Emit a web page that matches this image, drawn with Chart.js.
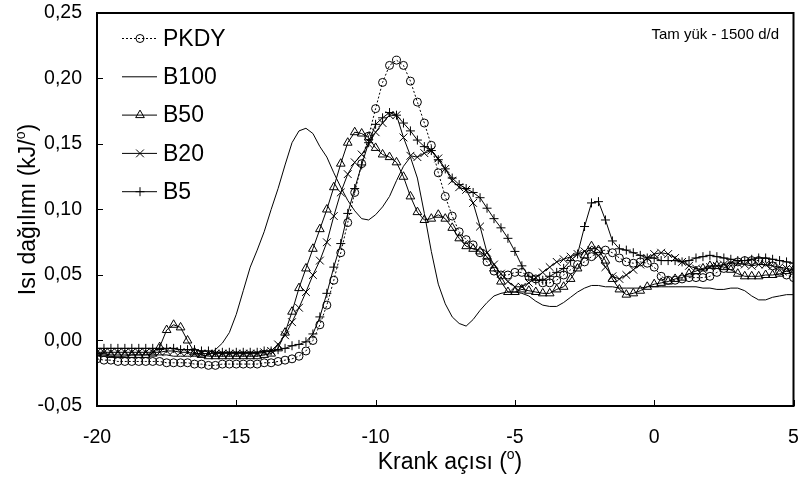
<!DOCTYPE html>
<html>
<head>
<meta charset="utf-8">
<script src="https://cdn.jsdelivr.net/npm/chart.js@4.4.1/dist/chart.umd.min.js"></script>
<style>
  html, body { margin: 0; padding: 0; background: #fff; }
  canvas { display: block; }
</style>
</head>
<body>
<canvas id="heatChart" width="800" height="479"></canvas>
<script>
// crank angle, degrees (0.25 step)
const angles = [
  -20, -19.75, -19.5, -19.25, -19, -18.75, -18.5, -18.25,
  -18, -17.75, -17.5, -17.25, -17, -16.75, -16.5, -16.25,
  -16, -15.75, -15.5, -15.25, -15, -14.75, -14.5, -14.25,
  -14, -13.75, -13.5, -13.25, -13, -12.75, -12.5, -12.25,
  -12, -11.75, -11.5, -11.25, -11, -10.75, -10.5, -10.25,
  -10, -9.75, -9.5, -9.25, -9, -8.75, -8.5, -8.25,
  -8, -7.75, -7.5, -7.25, -7, -6.75, -6.5, -6.25,
  -6, -5.75, -5.5, -5.25, -5, -4.75, -4.5, -4.25,
  -4, -3.75, -3.5, -3.25, -3, -2.75, -2.5, -2.25,
  -2, -1.75, -1.5, -1.25, -1, -0.75, -0.5, -0.25,
  0, 0.25, 0.5, 0.75, 1, 1.25, 1.5, 1.75,
  2, 2.25, 2.5, 2.75, 3, 3.25, 3.5, 3.75,
  4, 4.25, 4.5, 4.75, 5
];

// heat release, kJ/deg
const pkdy = [
  -0.014, -0.015, -0.015, -0.016, -0.016, -0.016, -0.016, -0.016,
  -0.016, -0.016, -0.017, -0.017, -0.017, -0.017, -0.018, -0.018,
  -0.019, -0.019, -0.018, -0.018, -0.018, -0.018, -0.018, -0.018,
  -0.017, -0.017, -0.016, -0.015, -0.014, -0.012, -0.008, 0.000,
  0.012, 0.027, 0.046, 0.067, 0.090, 0.113, 0.135, 0.156,
  0.177, 0.197, 0.210, 0.214, 0.210, 0.198, 0.182, 0.166,
  0.149, 0.128, 0.110, 0.095, 0.083, 0.077, 0.073, 0.067,
  0.060, 0.053, 0.050, 0.050, 0.052, 0.052, 0.049, 0.047,
  0.044, 0.044, 0.046, 0.050, 0.054, 0.058, 0.060, 0.064,
  0.068, 0.069, 0.067, 0.063, 0.060, 0.059, 0.060, 0.059,
  0.056, 0.049, 0.046, 0.046, 0.047, 0.048, 0.048, 0.048,
  0.049, 0.052, 0.055, 0.057, 0.060, 0.061, 0.061, 0.061,
  0.060, 0.057, 0.053, 0.050, 0.048
];
const b100 = [
  -0.011, -0.011, -0.012, -0.012, -0.012, -0.011, -0.011, -0.011,
  -0.011, -0.011, -0.011, -0.012, -0.012, -0.012, -0.012, -0.012,
  -0.011, -0.007, -0.002, 0.006, 0.020, 0.038, 0.056, 0.069,
  0.083, 0.100, 0.116, 0.134, 0.151, 0.160, 0.162, 0.158,
  0.148, 0.140, 0.128, 0.117, 0.107, 0.099, 0.093, 0.092,
  0.096, 0.102, 0.110, 0.122, 0.133, 0.140, 0.124, 0.097,
  0.068, 0.043, 0.028, 0.018, 0.013, 0.011, 0.016, 0.023,
  0.029, 0.034, 0.036, 0.037, 0.037, 0.036, 0.034, 0.030,
  0.027, 0.026, 0.026, 0.029, 0.033, 0.037, 0.040, 0.042,
  0.042, 0.041, 0.041, 0.040, 0.040, 0.040, 0.040, 0.041,
  0.041, 0.041, 0.041, 0.041, 0.041, 0.041, 0.041, 0.040,
  0.040, 0.039, 0.039, 0.040, 0.040, 0.038, 0.034, 0.031,
  0.031, 0.033, 0.034, 0.035, 0.035
];
const b50 = [
  -0.010, -0.010, -0.011, -0.011, -0.011, -0.011, -0.011, -0.011,
  -0.010, -0.005, 0.008, 0.012, 0.010, 0.000, -0.009, -0.011,
  -0.012, -0.012, -0.012, -0.012, -0.012, -0.012, -0.012, -0.012,
  -0.011, -0.010, -0.006, 0.006, 0.022, 0.040, 0.055, 0.070,
  0.085, 0.100, 0.117, 0.135, 0.151, 0.159, 0.158, 0.155,
  0.147, 0.142, 0.140, 0.136, 0.125, 0.110, 0.098, 0.092,
  0.093, 0.096, 0.093, 0.086, 0.078, 0.072, 0.070, 0.068,
  0.064, 0.055, 0.045, 0.037, 0.037, 0.039, 0.038, 0.037,
  0.036, 0.036, 0.039, 0.041, 0.047, 0.055, 0.065, 0.072,
  0.069, 0.061, 0.047, 0.039, 0.035, 0.036, 0.038, 0.041,
  0.043, 0.044, 0.045, 0.047, 0.048, 0.051, 0.053, 0.055,
  0.057, 0.057, 0.056, 0.054, 0.051, 0.049, 0.049, 0.049,
  0.050, 0.050, 0.051, 0.053, 0.054
];
const b20 = [
  -0.009, -0.009, -0.009, -0.009, -0.009, -0.009, -0.009, -0.009,
  -0.009, -0.009, -0.008, -0.008, -0.009, -0.009, -0.010, -0.010,
  -0.010, -0.010, -0.010, -0.010, -0.010, -0.010, -0.010, -0.010,
  -0.009, -0.008, -0.003, 0.004, 0.014, 0.025, 0.037, 0.050,
  0.061, 0.075, 0.095, 0.113, 0.127, 0.136, 0.142, 0.150,
  0.159, 0.166, 0.172, 0.172, 0.155, 0.141, 0.140, 0.143,
  0.145, 0.139, 0.131, 0.122, 0.117, 0.115, 0.105, 0.087,
  0.067, 0.058, 0.051, 0.045, 0.041, 0.041, 0.044, 0.048,
  0.052, 0.056, 0.060, 0.062, 0.064, 0.066, 0.068, 0.069,
  0.065, 0.056, 0.049, 0.047, 0.050, 0.054, 0.058, 0.063,
  0.066, 0.067, 0.066, 0.063, 0.060, 0.057, 0.055, 0.054,
  0.056, 0.057, 0.058, 0.059, 0.059, 0.058, 0.057, 0.058,
  0.058, 0.057, 0.056, 0.055, 0.054
];
const b5 = [
  -0.006, -0.006, -0.006, -0.006, -0.006, -0.006, -0.006, -0.006,
  -0.006, -0.006, -0.006, -0.006, -0.007, -0.007, -0.007, -0.008,
  -0.008, -0.009, -0.009, -0.009, -0.009, -0.009, -0.009, -0.009,
  -0.008, -0.008, -0.007, -0.006, -0.004, -0.003, -0.001, 0.005,
  0.018, 0.036, 0.056, 0.074, 0.097, 0.116, 0.134, 0.151,
  0.165, 0.170, 0.174, 0.172, 0.166, 0.160, 0.153, 0.148,
  0.145, 0.138, 0.131, 0.124, 0.119, 0.116, 0.113, 0.109,
  0.101, 0.093, 0.086, 0.078, 0.068, 0.057, 0.049, 0.046,
  0.046, 0.049, 0.052, 0.055, 0.061, 0.066, 0.087, 0.105,
  0.106, 0.092, 0.076, 0.070, 0.069, 0.067, 0.065, 0.063,
  0.063, 0.061, 0.061, 0.061, 0.060, 0.061, 0.063, 0.064,
  0.065, 0.064, 0.063, 0.062, 0.061, 0.061, 0.062, 0.063,
  0.063, 0.062, 0.061, 0.060, 0.059
];

const xTicks = [-20, -15, -10, -5, 0, 5];
const yTicks = [-0.05, 0, 0.05, 0.10, 0.15, 0.20, 0.25];
const noteText = 'Tam yük - 1500 d/d';

const FONT = "'Liberation Sans', Arial, sans-serif";
Chart.defaults.font.family = FONT;
Chart.defaults.color = '#000';

function pts(vals) {
  return angles.map((a, i) => ({ x: a, y: vals[i] }));
}

function series(label, vals, style, radius, dash) {
  return {
    label: label,
    data: pts(vals),
    borderColor: '#000',
    borderWidth: 1,
    borderDash: dash || [],
    pointStyle: style,
    pointRadius: radius,
    pointBorderColor: '#000',
    pointBackgroundColor: 'rgba(0,0,0,0)',
    pointBorderWidth: 1,
    tension: 0,
    fill: false
  };
}

// titles with a raised "o"
function drawParts(ctx, parts, size, cx, cy) {
  const small = Math.round(size * 0.62);
  let total = 0;
  parts.forEach(p => {
    ctx.font = (p.sup ? small : size) + 'px ' + FONT;
    p.w = ctx.measureText(p.t).width;
    total += p.w;
  });
  let x = cx - total / 2;
  ctx.textAlign = 'left';
  ctx.textBaseline = 'middle';
  parts.forEach(p => {
    ctx.font = (p.sup ? small : size) + 'px ' + FONT;
    ctx.fillText(p.t, x, p.sup ? cy - size * 0.33 : cy);
    x += p.w;
  });
}

const frameAndText = {
  id: 'frameAndText',
  afterDraw(chart) {
    const { ctx, chartArea: a, scales: { x, y } } = chart;
    ctx.save();
    ctx.strokeStyle = '#000';
    ctx.fillStyle = '#000';
    ctx.lineWidth = 2;
    ctx.strokeRect(a.left, a.top, a.right - a.left, a.bottom - a.top);

    // inward tick marks
    ctx.lineWidth = 1;
    ctx.beginPath();
    xTicks.forEach(v => {
      const px = Math.round(x.getPixelForValue(v)) + 0.5;
      ctx.moveTo(px, a.bottom);
      ctx.lineTo(px, a.bottom - 6);
    });
    yTicks.forEach(v => {
      const py = Math.round(y.getPixelForValue(v)) + 0.5;
      ctx.moveTo(a.left, py);
      ctx.lineTo(a.left + 6, py);
    });
    ctx.stroke();

    // legend inside plot
    chart.data.datasets.forEach((ds, i) => {
      const ly = 38.5 + i * 38.3;
      ctx.strokeStyle = '#000';
      ctx.lineWidth = 1;
      ctx.setLineDash(ds.borderDash);
      ctx.beginPath();
      ctx.moveTo(122, ly);
      ctx.lineTo(157, ly);
      ctx.stroke();
      ctx.setLineDash([]);
      if (ds.pointRadius > 0) {
        ctx.fillStyle = 'rgba(0,0,0,0)';
        Chart.helpers.drawPoint(ctx, {
          pointStyle: ds.pointStyle, radius: ds.pointRadius, rotation: 0, borderWidth: 1
        }, 140, ly);
      }
      ctx.fillStyle = '#000';
      ctx.font = '23px ' + FONT;
      ctx.textAlign = 'left';
      ctx.textBaseline = 'middle';
      ctx.fillText(ds.label, 163, ly + 1);
    });

    // note
    ctx.font = '15px ' + FONT;
    ctx.textAlign = 'right';
    ctx.textBaseline = 'middle';
    ctx.fillText(noteText, 779, 35);

    // axis titles
    drawParts(ctx, [{ t: 'Krank açısı (' }, { t: 'o', sup: true }, { t: ')' }], 23, 450, 463);
    ctx.save();
    ctx.translate(29, (a.top + a.bottom) / 2);
    ctx.rotate(-Math.PI / 2);
    drawParts(ctx, [{ t: 'Isı dağılımı (kJ/' }, { t: 'o', sup: true }, { t: ')' }], 23, 0, 0);
    ctx.restore();
    ctx.restore();
  }
};

new Chart(document.getElementById('heatChart').getContext('2d'), {
  type: 'line',
  data: {
    datasets: [
      series('PKDY', pkdy, 'circle', 4, [2, 2]),
      series('B100', b100, 'circle', 0),
      series('B50', b50, 'triangle', 5),
      series('B20', b20, 'crossRot', 5.5),
      series('B5', b5, 'cross', 4.5)
    ]
  },
  options: {
    responsive: false,
    animation: false,
    layout: { padding: { top: 13, right: 6, left: 0, bottom: 0 } },
    plugins: { legend: { display: false }, tooltip: { enabled: false } },
    scales: {
      x: {
        type: 'linear',
        min: -20,
        max: 5,
        ticks: { stepSize: 5, padding: 20, maxRotation: 0, font: { size: 19.5 }, color: '#000' },
        grid: { display: false, drawTicks: false },
        border: { display: false },
        afterFit: s => { s.height = 73; s.paddingLeft = 0; s.paddingRight = 0; }
      },
      y: {
        type: 'linear',
        min: -0.05,
        max: 0.25,
        ticks: {
          stepSize: 0.05,
          padding: 15,
          font: { size: 19.5 },
          color: '#000',
          callback: v => (Math.abs(v) < 1e-9 ? 0 : v).toFixed(2).replace('.', ',')
        },
        grid: { display: false, drawTicks: false },
        border: { display: false },
        afterFit: s => { s.width = 97; s.paddingTop = 0; s.paddingBottom = 0; }
      }
    }
  },
  plugins: [frameAndText]
});
</script>
</body>
</html>
